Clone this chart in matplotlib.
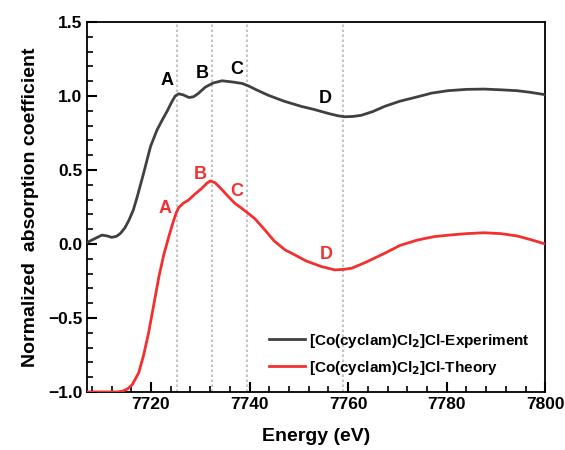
import matplotlib
matplotlib.use('Agg')
import matplotlib.pyplot as plt
from matplotlib.ticker import MultipleLocator

plt.rcParams['font.family'] = ['Liberation Sans', 'DejaVu Sans']
plt.rcParams['font.weight'] = 'bold'

# experiment curve (energy in eV, normalized absorption)
exp_energy = [7707.0, 7708.5, 7710.0, 7711.0, 7712.0, 7713.0, 7713.8, 7714.7, 7715.5, 7716.4,
              7717.2, 7718.5, 7719.9, 7721.2, 7722.3, 7723.3, 7724.2, 7724.9, 7725.6, 7726.5,
              7727.7, 7728.6, 7729.5, 7731.0, 7732.6, 7734.4, 7736.5, 7738.5, 7739.8, 7741.5,
              7743.8, 7747.0, 7750.5, 7753.0, 7755.9, 7758.0, 7759.3, 7761.0, 7762.7, 7765.0,
              7767.4, 7770.5, 7774.1, 7777.0, 7780.2, 7784.0, 7787.6, 7791.0, 7794.3, 7797.0,
              7800.0]
exp_mu = [0.01, 0.035, 0.06, 0.055, 0.045, 0.052, 0.072, 0.11, 0.16, 0.23,
          0.32, 0.48, 0.66, 0.77, 0.84, 0.90, 0.96, 1.0, 1.015, 1.008,
          0.99, 0.995, 1.015, 1.06, 1.088, 1.103, 1.095, 1.085, 1.068, 1.04,
          1.005, 0.965, 0.93, 0.91, 0.883, 0.866, 0.86, 0.862, 0.87, 0.895,
          0.93, 0.965, 0.995, 1.02, 1.036, 1.045, 1.047, 1.042, 1.036, 1.025,
          1.009]

# theory curve
th_energy = [7707.0, 7713.0, 7714.2, 7715.2, 7716.2, 7717.5, 7718.5, 7719.5, 7720.5, 7721.6,
             7722.6, 7723.6, 7724.5, 7725.1, 7725.6, 7726.5, 7727.6, 7729.0, 7730.3, 7731.3,
             7732.0, 7733.0, 7734.3, 7735.7, 7737.0, 7738.4, 7739.8, 7741.1, 7743.1, 7745.0,
             7747.2, 7749.2, 7751.5, 7754.6, 7757.3, 7759.0, 7760.7, 7763.5, 7767.4, 7770.5,
             7774.1, 7777.5, 7780.8, 7784.0, 7787.6, 7791.0, 7794.3, 7797.0, 7800.0]
th_mu = [-1.0, -1.0, -0.995, -0.98, -0.95, -0.87, -0.75, -0.60, -0.42, -0.22,
         -0.07, 0.05, 0.15, 0.21, 0.245, 0.275, 0.297, 0.34, 0.376, 0.41,
         0.426, 0.414, 0.37, 0.32, 0.275, 0.241, 0.205, 0.17, 0.095, 0.02,
         -0.04, -0.074, -0.115, -0.153, -0.175, -0.172, -0.164, -0.125, -0.063, -0.01,
         0.027, 0.05, 0.061, 0.07, 0.076, 0.07, 0.054, 0.03, 0.0]

# feature positions and labels
feature_x = [7725.2, 7732.3, 7739.5, 7759.0]
feature_names = ['A', 'B', 'C', 'D']
exp_label_x = [7723.2, 7730.3, 7737.3, 7755.3]
exp_label_y = [1.108, 1.149, 1.176, 0.98]
th_label_x = [7722.8, 7729.9, 7737.3, 7755.5]
th_label_y = [0.243, 0.473, 0.358, -0.068]

gray = '#404040'
red = '#f23030'

fig = plt.figure(figsize=(5.65, 4.5), dpi=100)
ax = fig.add_axes([0.154, 0.129, 0.811, 0.822])

for x in feature_x:
    ax.axvline(x, color='#c4c4c4', lw=1.5, ls=(0, (1.2, 1.2)), zorder=1)

ax.plot(exp_energy, exp_mu, color=gray, lw=2, label=r'[Co(cyclam)Cl$_\mathbf{2}$]Cl-Experiment', zorder=3)
ax.plot(th_energy, th_mu, color=red, lw=2, label=r'[Co(cyclam)Cl$_\mathbf{2}$]Cl-Theory', zorder=3)

for name, x, y in zip(feature_names, exp_label_x, exp_label_y):
    ax.text(x, y, name, color='black', fontsize=13, fontweight='bold', ha='center', va='center')
for name, x, y in zip(feature_names, th_label_x, th_label_y):
    ax.text(x, y, name, color=red, fontsize=13, fontweight='bold', ha='center', va='center')

ax.set_xlim(7707, 7800)
ax.set_ylim(-1.0, 1.5)
ax.xaxis.set_major_locator(MultipleLocator(20))
ax.xaxis.set_minor_locator(MultipleLocator(4))
ax.yaxis.set_major_locator(MultipleLocator(0.5))
ax.yaxis.set_minor_locator(MultipleLocator(0.1))
ax.tick_params(axis='both', which='major', direction='in', length=7, width=1.5,
               color='black', labelsize=12.5, bottom=True, left=True, top=False, right=False)
ax.tick_params(axis='both', which='minor', direction='in', length=4, width=1.2,
               color='black', bottom=True, left=True, top=False, right=False)
for s in ax.spines.values():
    s.set_linewidth(1.3)

ax.set_xlabel('Energy (eV)', fontsize=14, fontweight='bold', labelpad=12)
ax.set_ylabel('Normalized  absorption coefficient', fontsize=14, fontweight='bold', labelpad=6)

leg = ax.legend(loc='lower right', frameon=False, fontsize=11, handlelength=2.3,
                borderaxespad=0.6, labelspacing=0.6, handletextpad=0.3)

fig.savefig('out.png', dpi=100)
